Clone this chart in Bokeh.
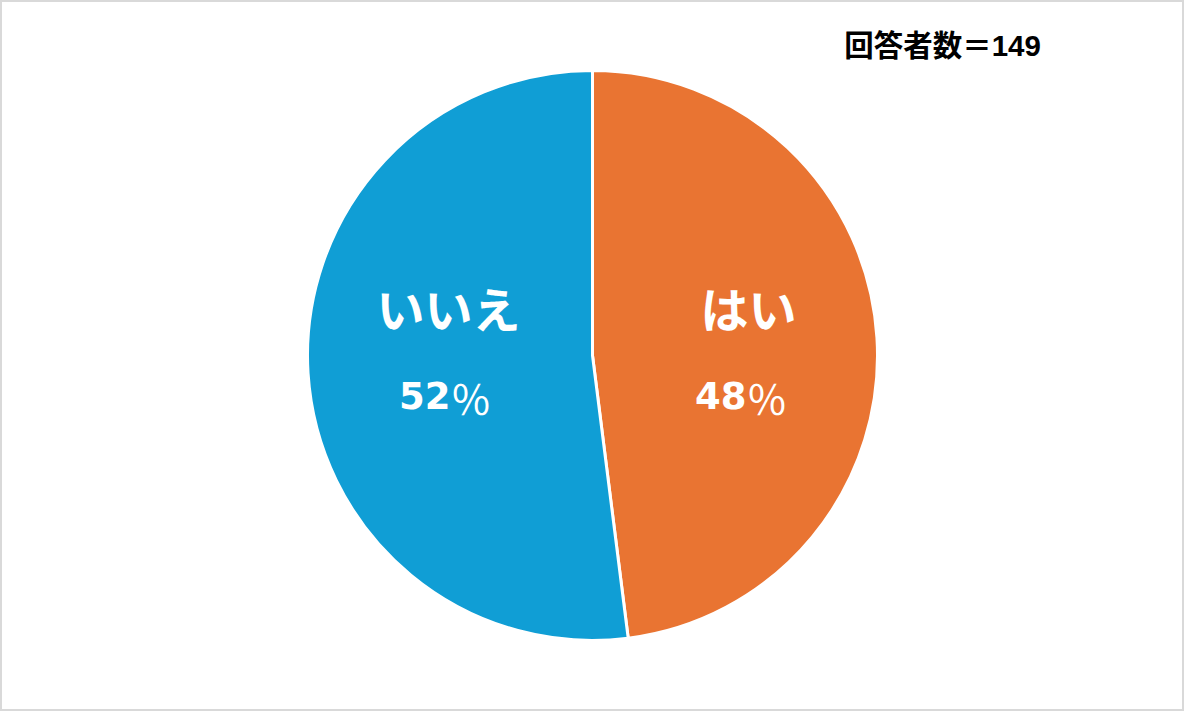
import math
from bokeh.plotting import figure
from bokeh.models import ColumnDataSource, Label
from bokeh.embed import file_html
from bokeh.resources import INLINE
from bokeh.core.properties import value

categories = ["はい", "いいえ"]
shares = [48, 52]
colors = ["#E97432", "#109ED5"]
respondents = 149

W, H = 1184, 711
p = figure(width=W, height=H, x_range=(0, W), y_range=(0, H),
           output_backend="svg", toolbar_location=None, min_border=0,
           match_aspect=False)
p.axis.visible = False
p.grid.visible = False
p.outline_line_color = "#D9D9D9"
p.outline_line_width = 3
p.background_fill_color = "white"
p.border_fill_color = "white"

cx, cy, r = 592, 356, 285
total = sum(shares)
starts, ends = [], []
a = math.pi / 2
for s in shares:
    starts.append(a)
    a -= 2 * math.pi * s / total
    ends.append(a)

src = ColumnDataSource(dict(start=starts, end=ends, color=colors))
p.wedge(x=cx, y=cy, radius=r, start_angle="start", end_angle="end",
        direction="clock", fill_color="color", line_color="white",
        line_width=3, source=src)

JP = "Noto Sans CJK JP"
NUM = "DejaVu Sans"
# label placement (pixels within the figure)
cat_pos = [(748, 711 - 306), (448, 711 - 306)]
pct_anchor = [(746, 711 - 395), (450, 711 - 395)]
for cat, s, (lx, ly), (ax, ay) in zip(categories, shares, cat_pos, pct_anchor):
    p.text(x=[lx], y=[ly], text=[cat], text_color="white",
           text_font=value(JP), text_font_style="bold",
           text_font_size="48px", text_align="center", text_baseline="middle")
    p.text(x=[ax], y=[ay], text=[str(s)], text_color="white",
           text_font=value(NUM), text_font_style="bold",
           text_font_size="37px", text_align="right", text_baseline="middle")
    p.text(x=[ax], y=[ay - 1], text=["％"], text_color="white",
           text_font=value(JP), text_font_style="normal",
           text_font_size="41px", text_align="left", text_baseline="middle")

p.add_layout(Label(x=950 - 8, y=711 - (53 - 8), text=f"回答者数＝{respondents}",
                   text_font="Liberation Sans, Noto Sans CJK JP", text_font_style="bold",
                   text_font_size="29.5px", text_align="center",
                   text_baseline="middle", text_color="black"))

open("out.html", "w").write(file_html(p, INLINE))
